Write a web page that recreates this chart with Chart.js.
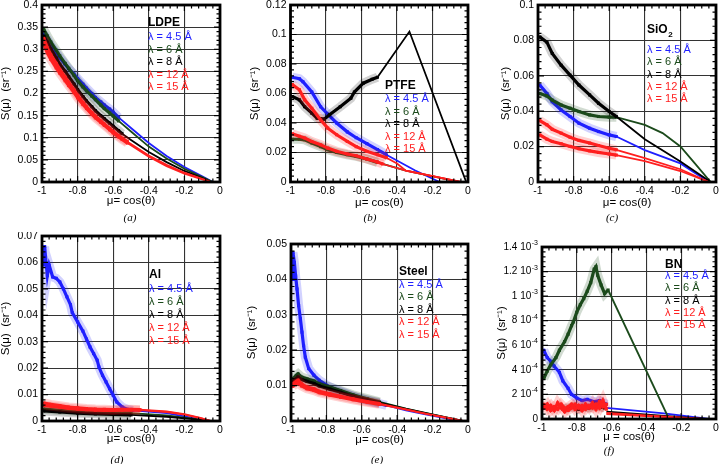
<!DOCTYPE html>
<html>
<head>
<meta charset="utf-8">
<script src="https://cdn.jsdelivr.net/npm/chart.js@4.4.0/dist/chart.umd.min.js"></script>
<style>
  body { margin: 0; background: #fff; width: 720px; height: 464px; position: relative; overflow: hidden; }
  canvas { position: absolute; }
</style>
</head>
<body>
<script>
// ---- labels shared by all panels ----
const lambdaLabels = ['λ = 4.5 Å', 'λ = 6 Å', 'λ = 8 Å', 'λ = 12 Å', 'λ = 15 Å'];
const xTickLabels = ['-1', '-0.8', '-0.6', '-0.4', '-0.2', '0'];

const ldpeYLabels = ['0', '0.05', '0.1', '0.15', '0.2', '0.25', '0.3', '0.35', '0.4'];
const ptfeYLabels = ['0', '0.02', '0.04', '0.06', '0.08', '0.1', '0.12'];
const sio2YLabels = ['0', '0.02', '0.04', '0.06', '0.08', '0.1'];
const alYLabels = ['0', '0.01', '0.02', '0.03', '0.04', '0.05', '0.06', '0.07'];
const steelYLabels = ['0', '0.01', '0.02', '0.03', '0.04', '0.05'];
// BN ticks: mantissa text and exponent (drawn raised)
const bnYLabels = [['0', ''], ['2 10', '-4'], ['4 10', '-4'], ['6 10', '-4'], ['8 10', '-4'], ['1 10', '-3'], ['1.2 10', '-3'], ['1.4 10', '-3']];

// ---- (a) LDPE  [mu, S] measured + extrapolated line ----
const ldpe45 = [[-0.99,0.335],[-0.97,0.322],[-0.95,0.308],[-0.92,0.292],[-0.9,0.281],[-0.87,0.266],[-0.85,0.256],[-0.82,0.244],[-0.8,0.234],[-0.77,0.221],[-0.75,0.212],[-0.72,0.2],[-0.7,0.191],[-0.67,0.181],[-0.65,0.174],[-0.62,0.165],[-0.6,0.158],[-0.57,0.146]];
const ldpe45Fit = [[-0.57,0.146],[-0.5,0.122],[-0.4,0.088],[-0.3,0.059],[-0.2,0.034],[-0.1,0.013],[-0.04,0]];
const ldpe6 = [[-0.99,0.345],[-0.97,0.33],[-0.95,0.316],[-0.92,0.298],[-0.9,0.285],[-0.87,0.268],[-0.85,0.257],[-0.82,0.241],[-0.8,0.229],[-0.77,0.215],[-0.75,0.206],[-0.72,0.194],[-0.7,0.186],[-0.67,0.174],[-0.65,0.166],[-0.62,0.156],[-0.6,0.149],[-0.57,0.138]];
const ldpe6Fit = [[-0.57,0.138],[-0.5,0.114],[-0.4,0.08],[-0.3,0.053],[-0.2,0.03],[-0.1,0.011],[-0.04,0]];
const ldpe8 = [[-0.99,0.33],[-0.97,0.316],[-0.95,0.3],[-0.92,0.28],[-0.9,0.266],[-0.87,0.25],[-0.85,0.238],[-0.82,0.221],[-0.8,0.209],[-0.77,0.193],[-0.75,0.183],[-0.72,0.17],[-0.7,0.161],[-0.67,0.15],[-0.65,0.143],[-0.62,0.133],[-0.6,0.126],[-0.57,0.116],[-0.55,0.109]];
const ldpe8Fit = [[-0.55,0.109],[-0.5,0.095],[-0.4,0.068],[-0.3,0.045],[-0.2,0.025],[-0.1,0.009],[-0.05,0]];
const ldpe12 = [[-0.99,0.325],[-0.97,0.303],[-0.95,0.287],[-0.92,0.268],[-0.9,0.254],[-0.87,0.237],[-0.85,0.225],[-0.82,0.208],[-0.8,0.196],[-0.77,0.18],[-0.75,0.17],[-0.72,0.157],[-0.7,0.149],[-0.67,0.138],[-0.65,0.131],[-0.62,0.121],[-0.6,0.114],[-0.57,0.105],[-0.55,0.099],[-0.52,0.091]];
const ldpe12Fit = [[-0.52,0.091],[-0.4,0.06],[-0.3,0.039],[-0.2,0.021],[-0.1,0.007],[-0.05,0]];
const ldpe15 = [[-0.99,0.312],[-0.97,0.292],[-0.95,0.277],[-0.92,0.258],[-0.9,0.246],[-0.87,0.229],[-0.85,0.218],[-0.82,0.202],[-0.8,0.19],[-0.77,0.175],[-0.75,0.166],[-0.72,0.153],[-0.7,0.145],[-0.67,0.135],[-0.65,0.128],[-0.62,0.118],[-0.6,0.111],[-0.57,0.102],[-0.55,0.096],[-0.52,0.088]];
const ldpe15Fit = [[-0.52,0.088],[-0.4,0.057],[-0.3,0.036],[-0.2,0.019],[-0.1,0.006],[-0.05,0]];

// ---- (b) PTFE ----
const ptfe45 = [[-0.99,0.071],[-0.95,0.07],[-0.93,0.068],[-0.88,0.061],[-0.83,0.051],[-0.79,0.046],[-0.74,0.04],[-0.68,0.034],[-0.63,0.03],[-0.57,0.026],[-0.51,0.022],[-0.46,0.0185]];
const ptfe45Fit = [[-0.46,0.0185],[-0.3,0.008],[-0.16,0]];
const ptfe6 = [[-0.99,0.029],[-0.95,0.029],[-0.92,0.0286],[-0.88,0.0264],[-0.83,0.024],[-0.79,0.0219],[-0.74,0.02],[-0.68,0.0185],[-0.63,0.0174],[-0.57,0.0156],[-0.51,0.0133]];
const ptfe6Fit = [[-0.51,0.0133],[-0.35,0.0077],[-0.05,0]];
const ptfe8 = [[-0.99,0.058],[-0.95,0.0557],[-0.92,0.051],[-0.88,0.0467],[-0.85,0.0433],[-0.81,0.0426],[-0.78,0.0456],[-0.72,0.051],[-0.66,0.0568],[-0.64,0.061],[-0.59,0.067],[-0.54,0.0697],[-0.51,0.071]];
const ptfe8Fit = [[-0.51,0.071],[-0.33,0.102],[-0.01,0]];
const ptfe12 = [[-0.99,0.066],[-0.95,0.0625],[-0.92,0.0557],[-0.88,0.05],[-0.83,0.042],[-0.79,0.0365],[-0.74,0.032],[-0.68,0.0275],[-0.63,0.024],[-0.57,0.0208],[-0.51,0.0185],[-0.46,0.0165]];
const ptfe12Fit = [[-0.46,0.0165],[-0.4,0.0125],[-0.35,0.0077],[-0.04,0]];
const ptfe15 = [[-0.99,0.0327],[-0.95,0.031],[-0.92,0.0298],[-0.88,0.0275],[-0.83,0.0253],[-0.79,0.023],[-0.74,0.0208],[-0.68,0.019],[-0.63,0.0178],[-0.57,0.0156],[-0.51,0.0135],[-0.48,0.0122]];
const ptfe15Fit = [[-0.48,0.0122],[-0.35,0.0077],[-0.04,0]];

// ---- (c) SiO2 ----
const sio245 = [[-0.99,0.0548],[-0.95,0.05],[-0.92,0.0454],[-0.87,0.0407],[-0.82,0.037],[-0.77,0.0332],[-0.71,0.0304],[-0.66,0.0285],[-0.6,0.0266],[-0.56,0.0257]];
const sio245Fit = [[-0.56,0.0257],[-0.4,0.018],[-0.2,0.0105],[-0.04,0]];
const sio26 = [[-0.99,0.05],[-0.95,0.0486],[-0.92,0.0463],[-0.87,0.0435],[-0.82,0.0417],[-0.77,0.0398],[-0.71,0.0379],[-0.66,0.037],[-0.6,0.0366],[-0.56,0.0366]];
const sio26Fit = [[-0.56,0.0366],[-0.4,0.0323],[-0.3,0.0276],[-0.2,0.0201],[-0.12,0.0107],[-0.03,0]];
const sio28 = [[-0.99,0.082],[-0.95,0.079],[-0.92,0.0726],[-0.87,0.066],[-0.82,0.0604],[-0.77,0.0548],[-0.71,0.0492],[-0.66,0.0445],[-0.6,0.0398],[-0.56,0.037]];
const sio28Fit = [[-0.56,0.037],[-0.4,0.0242],[-0.2,0.0116],[-0.03,0]];
const sio212 = [[-0.99,0.0347],[-0.95,0.0323],[-0.92,0.0298],[-0.87,0.0276],[-0.82,0.0253],[-0.77,0.0235],[-0.71,0.022],[-0.66,0.0206],[-0.6,0.0191],[-0.56,0.0182]];
const sio212Fit = [[-0.56,0.0182],[-0.4,0.0135],[-0.2,0.0072],[-0.04,0]];
const sio215 = [[-0.99,0.0266],[-0.95,0.0242],[-0.92,0.0229],[-0.87,0.0216],[-0.82,0.0201],[-0.77,0.0188],[-0.71,0.0176],[-0.66,0.0167],[-0.6,0.0158],[-0.56,0.0152]];
const sio215Fit = [[-0.56,0.0152],[-0.4,0.0118],[-0.2,0.0062],[-0.04,0]];

// ---- (d) Al ----
const al45 = [[-0.99,0.059],[-0.985,0.066],[-0.98,0.062],[-0.97,0.055],[-0.96,0.059],[-0.94,0.0545],[-0.92,0.054],[-0.9,0.0526],[-0.88,0.05],[-0.86,0.047],[-0.84,0.044],[-0.83,0.041],[-0.8,0.0375],[-0.77,0.034],[-0.75,0.031],[-0.73,0.028],[-0.71,0.0255],[-0.69,0.023],[-0.68,0.0204],[-0.66,0.0173],[-0.64,0.0148],[-0.62,0.0122],[-0.6,0.0097],[-0.58,0.0072],[-0.55,0.0053],[-0.52,0.0044],[-0.49,0.004]];
const al45Fit = [[-0.49,0.004],[-0.3,0.003],[-0.06,0]];
const al6 = [[-0.99,0.0045],[-0.9,0.004],[-0.8,0.0036],[-0.7,0.0033],[-0.6,0.0031],[-0.5,0.003]];
const al6Fit = [[-0.5,0.003],[-0.3,0.0021],[-0.1,0.0004],[-0.07,0]];
const al8 = [[-0.99,0.0038],[-0.9,0.0034],[-0.8,0.003],[-0.7,0.0027],[-0.6,0.0025],[-0.5,0.0023]];
const al8Fit = [[-0.5,0.0023],[-0.3,0.0016],[-0.1,0.0004],[-0.08,0]];
const al12 = [[-0.99,0.0059],[-0.95,0.0056],[-0.9,0.0052],[-0.85,0.0048],[-0.8,0.0045],[-0.75,0.0043],[-0.7,0.0041],[-0.65,0.004],[-0.6,0.004],[-0.55,0.0041],[-0.5,0.0042],[-0.45,0.0041]];
const al12Fit = [[-0.45,0.0041],[-0.3,0.0034],[-0.2,0.0024],[-0.11,0.0011],[-0.05,0]];
const al15 = [[-0.99,0.0068],[-0.95,0.0063],[-0.9,0.0058],[-0.85,0.0053],[-0.8,0.005],[-0.75,0.0047],[-0.7,0.0045],[-0.65,0.0044],[-0.6,0.0043],[-0.55,0.0044],[-0.5,0.0044],[-0.45,0.0043]];
const al15Fit = [[-0.45,0.0043],[-0.3,0.0036],[-0.2,0.0026],[-0.11,0.0012],[-0.05,0]];

// ---- (e) Steel ----
const steel45 = [[-0.994,0.04],[-0.989,0.0476],[-0.981,0.0448],[-0.974,0.041],[-0.966,0.0373],[-0.957,0.0326],[-0.947,0.0289],[-0.938,0.0251],[-0.929,0.0213],[-0.919,0.018],[-0.9,0.0148],[-0.87,0.0129],[-0.84,0.0115],[-0.78,0.0096],[-0.72,0.0084],[-0.65,0.007],[-0.57,0.0058],[-0.5,0.0049],[-0.46,0.0044]];
const steel45Fit = [[-0.46,0.0044],[-0.35,0.003],[-0.24,0.0019],[-0.07,0.0002],[-0.03,0]];
const steel6 = [[-0.99,0.0119],[-0.97,0.0129],[-0.96,0.0133],[-0.94,0.0124],[-0.91,0.0119],[-0.87,0.0113],[-0.84,0.0105],[-0.78,0.0096],[-0.72,0.0086],[-0.65,0.0074],[-0.57,0.0063],[-0.5,0.0054]];
const steel6Fit = [[-0.5,0.0054],[-0.35,0.0035],[-0.24,0.0023],[-0.03,0]];
const steel8 = [[-0.99,0.0112],[-0.97,0.012],[-0.96,0.0124],[-0.94,0.0117],[-0.91,0.0112],[-0.87,0.0106],[-0.84,0.0099],[-0.78,0.009],[-0.72,0.0081],[-0.65,0.007],[-0.57,0.006],[-0.5,0.0052]];
const steel8Fit = [[-0.5,0.0052],[-0.35,0.0034],[-0.24,0.0022],[-0.03,0]];
const steel12 = [[-0.99,0.0105],[-0.97,0.0112],[-0.96,0.0115],[-0.94,0.0105],[-0.91,0.0096],[-0.87,0.0091],[-0.84,0.0084],[-0.78,0.0077],[-0.72,0.007],[-0.65,0.0063],[-0.57,0.0055],[-0.5,0.0049]];
const steel12Fit = [[-0.5,0.0049],[-0.35,0.0033],[-0.24,0.0021],[-0.03,0]];
const steel15 = [[-0.99,0.0098],[-0.97,0.0106],[-0.96,0.0108],[-0.94,0.0099],[-0.91,0.0091],[-0.87,0.0086],[-0.84,0.008],[-0.78,0.0073],[-0.72,0.0067],[-0.65,0.006],[-0.57,0.0053],[-0.5,0.0047]];
const steel15Fit = [[-0.5,0.0047],[-0.35,0.0032],[-0.24,0.002],[-0.03,0]];

// ---- (f) BN ----
const bn45 = [[-0.99,0.00056],[-0.97,0.0005],[-0.95,0.00047],[-0.93,0.00043],[-0.9,0.00038],[-0.88,0.00031],[-0.85,0.00025],[-0.83,0.0002],[-0.8,0.00017],[-0.77,0.00015],[-0.74,0.00016],[-0.7,0.00014],[-0.67,0.00015],[-0.63,0.00012]];
const bn45Fit = [[-0.63,0.00009],[-0.3,0.000046],[-0.04,0]];
const bn6 = [[-0.99,0.00033],[-0.97,0.00039],[-0.95,0.00044],[-0.92,0.0005],[-0.9,0.00056],[-0.87,0.00063],[-0.85,0.00069],[-0.83,0.00076],[-0.82,0.00079],[-0.8,0.00087],[-0.78,0.00093],[-0.76,0.00098],[-0.74,0.00104],[-0.72,0.00111],[-0.7,0.00122],[-0.69,0.00124],[-0.68,0.00117],[-0.66,0.00109],[-0.64,0.00102],[-0.62,0.00105]];
const bn6Fit = [[-0.62,0.00105],[-0.27,0]];
const bn8 = [[-0.88,0.00008],[-0.85,0.00009],[-0.82,0.0001],[-0.79,0.00008],[-0.76,0.0001],[-0.73,0.00009],[-0.7,0.00011],[-0.67,0.0001],[-0.64,0.00009]];
const bn8Fit = [[-0.63,0.00006],[-0.06,0]];
const bn12 = [[-0.99,0.00012],[-0.97,0.00008],[-0.95,0.00011],[-0.93,0.00007],[-0.91,0.00013],[-0.89,0.00009],[-0.87,0.00006],[-0.85,0.0001],[-0.83,0.00012],[-0.81,0.00008],[-0.79,0.00011],[-0.77,0.00007],[-0.75,0.00012],[-0.73,0.00009],[-0.71,0.00013],[-0.69,0.00008],[-0.67,0.00014],[-0.65,0.0001],[-0.63,0.00012]];
const bn12Fit = [[-0.63,0.00005],[-0.08,0]];
const bn15 = [[-0.99,0.00009],[-0.97,0.00012],[-0.95,0.00007],[-0.93,0.0001],[-0.91,0.00008],[-0.89,0.00012],[-0.87,0.00009],[-0.85,0.00007],[-0.83,0.00009],[-0.81,0.00012],[-0.79,0.00009],[-0.77,0.00011],[-0.75,0.00008],[-0.73,0.00011],[-0.71,0.00009],[-0.69,0.00012],[-0.67,0.00009],[-0.65,0.00015],[-0.63,0.00008]];
const bn15Fit = [[-0.63,0.00004],[-0.08,0]];

// ---- styling ----
const lineColors = ['#1f1fff', '#1b4a1b', '#000000', '#ff1f1f', '#ff1f1f'];
const haloColors = ['rgba(31,31,255,0.2)', 'rgba(27,74,27,0.2)', 'rgba(0,0,0,0.18)', 'rgba(255,31,31,0.2)', 'rgba(255,31,31,0.2)'];
const FONT = '"Liberation Sans", Arial, sans-serif';

// layout of each panel (canvas coords inside a 240x232 cell)
const panels = [
  { name: 'LDPE', cap: '(a)', cx: 0, cy: 0, l: 42, t: 5, r: 220, b: 182, yTitleX: 5, xTitleY: 201,
    capPos: [130, 218], leg: [148, 23, 37, 12.5], yMax: 0.4, yStep: 0.05, yLabels: ldpeYLabels, xTitle: 'μ= cos(θ)',
    series: [[ldpe45, ldpe45Fit], [ldpe6, ldpe6Fit], [ldpe8, ldpe8Fit], [ldpe12, ldpe12Fit], [ldpe15, ldpe15Fit]] },
  { name: 'PTFE', cap: '(b)', cx: 240, cy: 0, l: 50.5, t: 5, r: 228, b: 182, yTitleX: 15, xTitleY: 203,
    capPos: [130, 218], leg: [145, 86, 99, 12.5], yMax: 0.12, yStep: 0.02, yLabels: ptfeYLabels, xTitle: 'μ= cos(θ)',
    series: [[ptfe45, ptfe45Fit], [ptfe6, ptfe6Fit], [ptfe8, ptfe8Fit], [ptfe12, ptfe12Fit], [ptfe15, ptfe15Fit]] },
  { name: 'SiO', sub: '2', cap: '(c)', cx: 480, cy: 0, l: 58, t: 5, r: 237, b: 182, yTitleX: 26, xTitleY: 203,
    capPos: [132, 218], leg: [167, 30, 50, 12.3], yMax: 0.1, yStep: 0.02, yLabels: sio2YLabels, xTitle: 'μ= cos(θ)',
    series: [[sio245, sio245Fit], [sio26, sio26Fit], [sio28, sio28Fit], [sio212, sio212Fit], [sio215, sio215Fit]] },
  { name: 'Al', cap: '(d)', cx: 0, cy: 232, l: 42, t: 4, r: 220, b: 189, yTitleX: 5, xTitleY: 207,
    capPos: [117, 228], leg: [149, 43, 57, 13], yMax: 0.07, yStep: 0.01, yLabels: alYLabels, xTitle: 'μ= cos(θ)',
    series: [[al45, al45Fit], [al6, al6Fit], [al8, al8Fit], [al12, al12Fit], [al15, al15Fit]] },
  { name: 'Steel', cap: '(e)', cx: 240, cy: 232, l: 51, t: 12, r: 228, b: 189, yTitleX: 12, xTitleY: 208,
    capPos: [137, 228], leg: [159, 40, 53, 12.4], yMax: 0.05, yStep: 0.01, yLabels: steelYLabels, xTitle: 'μ= cos(θ)',
    series: [[steel45, steel45Fit], [steel6, steel6Fit], [steel8, steel8Fit], [steel12, steel12Fit], [steel15, steel15Fit]] },
  { name: 'BN', cap: '(f)', cx: 480, cy: 232, l: 62, t: 15, r: 237, b: 187, yTitleX: 22, xTitleY: 205,
    capPos: [129, 219], leg: [185, 33, 44, 12.3], yMax: 0.0014, yStep: 0.0002, yLabels: null, yPow: bnYLabels,
    xTitle: 'μ = cos(θ)',
    series: [[bn45, bn45Fit], [bn6, bn6Fit], [bn8, bn8Fit], [bn12, bn12Fit], [bn15, bn15Fit]] }
];

const toXY = arr => arr.map(p => ({ x: p[0], y: p[1] }));

// frame, inward minor ticks, power-of-ten tick labels, legend text and caption
const panelDecor = {
  id: 'panelDecor',
  afterDraw(chart, args, o) {
    const { ctx, chartArea: a, scales: { x, y } } = chart;
    ctx.save();
    ctx.strokeStyle = '#000';
    ctx.lineWidth = 1.2;
    ctx.beginPath();
    for (let i = 0; i <= 25; i++) {
      const px = x.getPixelForValue(-1 + i * 0.04);
      const len = i % 5 === 0 ? 6 : 3.5;
      ctx.moveTo(px, a.bottom); ctx.lineTo(px, a.bottom - len);
      ctx.moveTo(px, a.top); ctx.lineTo(px, a.top + len);
    }
    const nY = Math.round(o.yMax / o.yStep) * 5;
    for (let i = 0; i <= nY; i++) {
      const py = y.getPixelForValue(i * o.yStep / 5);
      const len = i % 5 === 0 ? 6 : 3.5;
      ctx.moveTo(a.left, py); ctx.lineTo(a.left + len, py);
      ctx.moveTo(a.right, py); ctx.lineTo(a.right - len, py);
    }
    ctx.stroke();
    ctx.lineWidth = 2.8;
    ctx.strokeRect(a.left, a.top, a.right - a.left, a.bottom - a.top);

    ctx.fillStyle = '#000';
    ctx.textBaseline = 'middle';
    if (o.yPow) {
      o.yPow.forEach(([m, e], i) => {
        const py = y.getPixelForValue(i * o.yStep);
        let xr = a.left - 4;
        ctx.textAlign = 'right';
        if (e) {
          ctx.font = '7px ' + FONT;
          ctx.fillText(e, xr, py - 4);
          xr -= ctx.measureText(e).width + 0.5;
        }
        ctx.font = '10px ' + FONT;
        ctx.fillText(m, xr, py);
      });
    }

    // legend block
    const [lx, ty, y0, dy] = o.leg;
    ctx.textAlign = 'left';
    ctx.font = 'bold 12px ' + FONT;
    ctx.fillText(o.name, lx, ty);
    if (o.sub) {
      const w = ctx.measureText(o.name).width;
      ctx.font = 'bold 8px ' + FONT;
      ctx.fillText(o.sub, lx + w + 0.5, ty + 5);
    }
    ctx.font = '11px ' + FONT;
    lambdaLabels.forEach((t, i) => {
      ctx.fillStyle = lineColors[i];
      ctx.fillText(t, lx, y0 + i * dy);
    });

    // caption
    ctx.fillStyle = '#000';
    ctx.textAlign = 'center';
    ctx.font = 'italic 11px "Liberation Serif", "Times New Roman", serif';
    ctx.fillText(o.cap, o.capPos[0], o.capPos[1]);
    ctx.restore();
  }
};

panels.forEach(p => {
  const cv = document.createElement('canvas');
  cv.width = 240; cv.height = 232;
  cv.style.left = p.cx + 'px';
  cv.style.top = p.cy + 'px';
  document.body.appendChild(cv);

  const n = p.series.length;
  const datasets = [];
  p.series.forEach(([meas, fit], i) => {
    const base = (n - i) * 3;
    datasets.push({ data: toXY(meas), showLine: true, borderColor: haloColors[i], borderWidth: 9,
      pointRadius: 0, order: base + 2 });
    datasets.push({ data: toXY(fit), showLine: true, borderColor: lineColors[i], borderWidth: 1.8,
      pointRadius: 0, order: base + 1 });
    datasets.push({ data: toXY(meas), showLine: true, borderColor: lineColors[i], borderWidth: 3.2,
      pointStyle: 'rect', pointRadius: 2.2, pointBackgroundColor: lineColors[i],
      pointBorderColor: lineColors[i], pointBorderWidth: 0, order: base });
  });

  const xh = p.xTitleY + 5.5 - p.b;

  new Chart(cv.getContext('2d'), {
    type: 'scatter',
    data: { datasets: datasets },
    options: {
      responsive: false,
      animation: false,
      layout: { padding: { left: 0, top: p.t, right: 240 - p.r, bottom: 232 - p.b - xh } },
      plugins: {
        legend: { display: false },
        tooltip: { enabled: false },
        panelDecor: { name: p.name, sub: p.sub, cap: p.cap, capPos: p.capPos, leg: p.leg,
          yMax: p.yMax, yStep: p.yStep, yPow: p.yPow }
      },
      scales: {
        x: {
          type: 'linear', min: -1, max: 0,
          ticks: { stepSize: 0.2, autoSkip: false, maxRotation: 0, padding: 3, color: '#000',
            font: { family: FONT, size: 10.5 }, callback: (v, i) => xTickLabels[i] },
          grid: { color: '#333', lineWidth: 1.1, drawTicks: false },
          border: { display: false },
          title: { display: true, text: p.xTitle, color: '#000', padding: 0,
            font: { family: FONT, size: 11.5, lineHeight: 1 } },
          afterFit: s => { s.height = xh; s.paddingLeft = 0; s.paddingRight = 0; }
        },
        y: {
          type: 'linear', min: 0, max: p.yMax,
          ticks: { display: !p.yPow, stepSize: p.yStep, autoSkip: false, padding: 4, color: '#000',
            font: { family: FONT, size: 10.5 }, callback: (v, i) => p.yLabels ? p.yLabels[i] : '' },
          grid: { color: '#333', lineWidth: 1.1, drawTicks: false },
          border: { display: false },
          title: { display: true, text: 'S(μ)  (sr⁻¹)', color: '#000',
            padding: { top: Math.max(0, p.yTitleX - 5.75), bottom: 0 },
            font: { family: FONT, size: 11.5, lineHeight: 1 } },
          afterFit: s => { s.width = p.l; s.paddingTop = 0; s.paddingBottom = 0; }
        }
      }
    },
    plugins: [panelDecor]
  });
});
</script>
</body>
</html>
